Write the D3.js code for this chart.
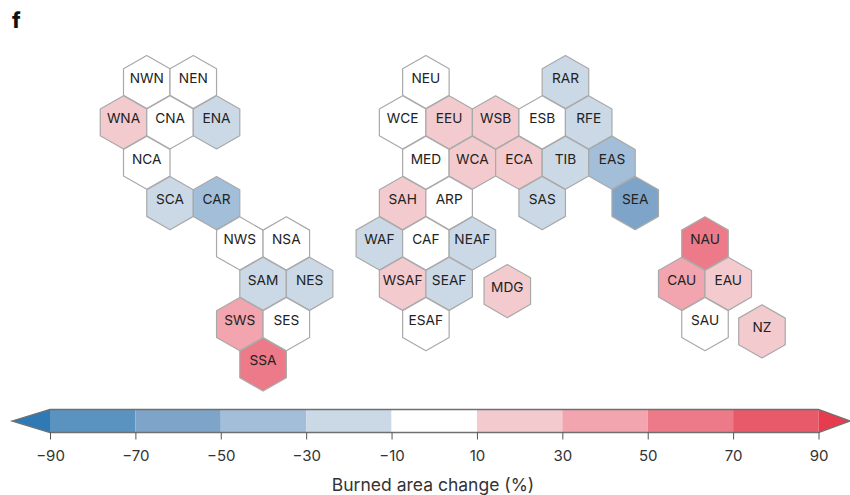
<!DOCTYPE html>
<html><head><meta charset="utf-8">
<script src="https://cdn.jsdelivr.net/npm/d3@7/dist/d3.min.js"></script>
<style>html,body{margin:0;background:#fff}svg{display:block}text{font-family:Inter,"Open Sans",sans-serif}</style>
</head><body><svg id="c" width="850" height="495"></svg>
<script>
const regions=["NWN","NEN","WNA","CNA","ENA","NCA","SCA","CAR","NWS","NSA","SAM","NES","SWS","SES","SSA",
"NEU","RAR","WCE","EEU","WSB","ESB","RFE","MED","WCA","ECA","TIB","EAS","SAH","ARP","SAS","SEA","WAF","CAF","NEAF","WSAF","SEAF","MDG","ESAF",
"NAU","CAU","EAU","SAU","NZ"];
const cols=[1,3,0,2,4,1,2,4,5,7,6,8,5,7,6,
13,19,12,14,16,18,20,13,15,17,19,21,12,14,18,22,11,13,15,12,14,16.5,13,
25,24,26,25,27.45];
const rows=[0,0,1,1,1,2,3,3,4,4,5,5,6,6,7,
0,0,1,1,1,1,1,2,2,2,2,2,3,3,3,3,4,4,4,5,5,5.18,6,
4,5,5,6,6.18];
const change=[0,0,20,0,-25,0,-25,-45,0,0,-25,-25,40,0,60,
0,-25,0,20,20,0,-25,0,20,20,-25,-35,20,0,-25,-55,-25,0,-25,20,-25,20,0,
60,40,20,0,20];
const tickValues=[-90,-70,-50,-30,-10,10,30,50,70,90];
const binColors=["#5b93c0","#7ea5c9","#a3bed8","#cbd9e6","#ffffff","#f3cbcf","#f2a5ae","#ec7a88","#e85a69"];
const tipColors=["#2f7ab5","#e63c4e"];

const svg=d3.select("#c");
const x=d3.scaleLinear().domain([0,25]).range([123.5,705]);
const y=d3.scaleLinear().domain([0,7]).range([82,364.5]);
const color=d3.scaleThreshold().domain(tickValues.slice(1,-1)).range(binColors);
const R=26.6, halfW=x(1)-x(0);
const hexPath=d3.line()([[0,-R],[halfW,-R/2],[halfW,R/2],[0,R],[-halfW,R/2],[-halfW,-R/2]])+"Z";

const cells=regions.map((name,i)=>({name,col:cols[i],row:rows[i],v:change[i]}));
const g=svg.selectAll("g.hex").data(cells).join("g").attr("class","hex")
  .attr("transform",d=>`translate(${x(d.col)},${y(d.row)})`);
g.append("path").attr("d",hexPath).attr("fill",d=>color(d.v))
  .attr("stroke","#a9a9a9").attr("stroke-width",1.2).attr("stroke-linejoin","round");
g.append("text").attr("text-anchor","middle").attr("y",-4).attr("dy","0.36em")
  .attr("font-size",13.7).attr("fill","#222").text(d=>d.name);

svg.append("text").attr("x",12).attr("y",28).attr("font-size",21).attr("font-weight",800).attr("fill","#111").text("f");

const cx=d3.scaleLinear().domain([-90,90]).range([50,818.5]);
const barTop=409.5,barBot=432.5,barMid=(barTop+barBot)/2;
const bins=d3.pairs(tickValues);
svg.selectAll("rect.bin").data(bins).join("rect").attr("class","bin")
  .attr("x",d=>cx(d[0])).attr("width",d=>cx(d[1])-cx(d[0]))
  .attr("y",barTop).attr("height",barBot-barTop).attr("fill",(d,i)=>binColors[i]);
svg.append("path").attr("d",`M${cx(-90)},${barTop}L12,${barMid}L${cx(-90)},${barBot}Z`).attr("fill",tipColors[0]);
svg.append("path").attr("d",`M${cx(90)},${barTop}L850,${barMid}L${cx(90)},${barBot}Z`).attr("fill",tipColors[1]);
svg.append("path").attr("d",`M12,${barMid}L${cx(-90)},${barTop}H${cx(90)}L850,${barMid}L${cx(90)},${barBot}H${cx(-90)}Z`)
  .attr("fill","none").attr("stroke","#6f6f6f").attr("stroke-width",1.3);
const axis=d3.axisBottom(cx).tickValues(tickValues).tickSize(7).tickPadding(11)
  .tickFormat(d=>d<0?"\u2212"+Math.abs(d):d);
const ag=svg.append("g").attr("transform",`translate(0,${barBot})`).call(axis);
ag.select(".domain").remove();
ag.selectAll("line").attr("stroke","#555");
ag.selectAll("text").attr("font-size",15).attr("fill","#333");
svg.append("text").attr("x",433).attr("y",491).attr("text-anchor","middle").attr("font-size",17.5).attr("fill","#333").text("Burned area change (%)");
</script></body></html>
